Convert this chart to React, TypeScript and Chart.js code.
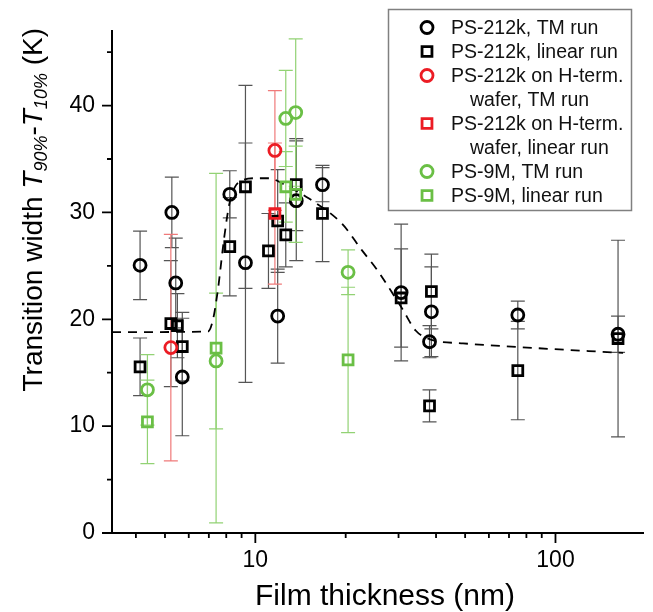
import React, { useEffect, useRef } from "react";
import { Chart, registerables } from "chart.js";

Chart.register(...registerables);

const FONT = '"Liberation Sans", Arial, Helvetica, sans-serif';

// PS-212k, TM run
const tmX = [4.13, 5.27, 5.43, 5.71, 8.22, 9.27, 11.87, 13.69, 16.74, 30.6, 38.6, 38.05, 74.9, 161.6];
const tmY = [25.05, 30.0, 23.4, 14.6, 31.7, 25.3, 20.3, 31.1, 32.6, 22.5, 20.7, 17.9, 20.4, 18.6];
const tmErr = [3.2, 3.3, 4.2, 5.5, 2.2, 11.2, 4.4, 5.6, 1.6, 6.4, 4.2, 1.5, 1.3, 1.7];

// PS-212k, linear run
const linX = [4.13, 5.23, 5.5, 5.71, 8.22, 9.27, 11.06, 11.87, 12.63, 13.69, 16.74, 30.6, 38.6, 38.05, 74.9, 161.6];
const linY = [15.55, 19.6, 19.4, 17.45, 26.8, 32.4, 26.4, 29.2, 27.9, 32.6, 29.9, 22.0, 22.6, 11.9, 15.2, 18.2];
const linErr = [2.7, 5.9, 3.0, 3.2, 4.6, 9.5, 3.5, 4.8, 3.0, 4.3, 4.5, 4.6, 3.5, 1.5, 4.6, 9.2];

// PS-212k on H-term. wafer, TM run
const hTmX = [5.23, 11.62];
const hTmY = [17.35, 35.8];
const hTmErr = [10.6, 5.6];

// PS-212k on H-term. wafer, linear run
const hLinX = [11.62];
const hLinY = [29.9];
const hLinErr = [6.6];

// PS-9M, TM run
const gTmX = [4.37, 7.4, 12.63, 13.63, 20.37];
const gTmY = [13.4, 16.1, 38.8, 39.35, 24.4];
const gTmErr = [3.3, 6.35, 4.5, 6.9, 2.1];

// PS-9M, linear run
const gLinX = [4.37, 7.4, 12.63, 13.63, 20.37];
const gLinY = [10.4, 17.3, 32.4, 31.7, 16.2];
const gLinErr = [3.9, 16.35, 3.3, 4.5, 6.8];

// dashed guide curve
const fitX = [3.33, 6.95, 7.21, 7.49, 7.88, 8.18, 8.52, 9.05, 10.0, 11.08, 12.7, 15.1, 19.5, 22.6, 25.5, 28.4, 31.0, 34.2, 38.4, 49.2, 75.5, 168];
const fitY = [18.8, 18.85, 19.85, 22.6, 27.7, 30.7, 32.3, 33.0, 33.2, 33.2, 32.5, 31.3, 28.9, 26.5, 24.6, 22.6, 20.9, 18.95, 18.1, 17.75, 17.4, 16.85];

const xMajorTicks = [10, 100];
const xMinorTicks = [4, 5, 6, 7, 8, 9, 20, 30, 40, 50, 60, 70, 80, 90];
const yMajorTicks = [0, 10, 20, 30, 40];
const yMinorTicks = [5, 15, 25, 35, 45];

const BLACK = "#000000";
const RED = "#ec1c24";
const GREEN = "#6abf45";
const BLACK_BAR = "#555555";
const RED_BAR = "#f07a7a";
const GREEN_BAR = "#92d274";

const CIRCLE_R = 6.0;
const RECT_R = 7.0;
const MARK_W = 2.8;

const pts = (xs: number[], ys: number[]) => xs.map((x, i) => ({ x, y: ys[i] }));

function makeSet(label: string, xs: number[], ys: number[], errs: number[], style: string, color: string, barColor: string, order: number) {
  return {
    label,
    data: pts(xs, ys),
    errs,
    barColor,
    showLine: false,
    pointStyle: style,
    pointRadius: style === "rect" ? RECT_R : CIRCLE_R,
    pointBorderWidth: MARK_W,
    borderColor: color,
    backgroundColor: "rgba(0,0,0,0)",
    pointBackgroundColor: "rgba(0,0,0,0)",
    pointBorderColor: color,
    order,
  };
}

const errorBarPlugin = {
  id: "errorBars",
  beforeDatasetsDraw(chart: any) {
    const ctx = chart.ctx;
    const xs = chart.scales.x;
    const ys = chart.scales.y;
    ctx.save();
    chart.data.datasets.forEach((ds: any) => {
      if (!ds.errs) return;
      ctx.strokeStyle = ds.barColor;
      ctx.lineWidth = 1.2;
      ds.data.forEach((p: any, i: number) => {
        const e = ds.errs[i];
        const px = xs.getPixelForValue(p.x);
        const top = ys.getPixelForValue(p.y + e);
        const bot = ys.getPixelForValue(p.y - e);
        ctx.beginPath();
        ctx.moveTo(px, top);
        ctx.lineTo(px, bot);
        ctx.moveTo(px - 7, top);
        ctx.lineTo(px + 7, top);
        ctx.moveTo(px - 7, bot);
        ctx.lineTo(px + 7, bot);
        ctx.stroke();
      });
    });
    ctx.restore();
  },
};

function drawMarker(ctx: any, style: string, color: string, x: number, y: number) {
  ctx.save();
  ctx.strokeStyle = color;
  ctx.lineWidth = MARK_W;
  ctx.beginPath();
  if (style === "rect") {
    const s = RECT_R * Math.SQRT1_2;
    ctx.rect(x - s, y - s, 2 * s, 2 * s);
  } else {
    ctx.arc(x, y, CIRCLE_R, 0, Math.PI * 2);
  }
  ctx.stroke();
  ctx.restore();
}

const decorPlugin = {
  id: "decor",
  afterDraw(chart: any) {
    const ctx = chart.ctx;
    const xs = chart.scales.x;
    const ys = chart.scales.y;
    const area = chart.chartArea;
    ctx.save();
    // tick marks
    ctx.strokeStyle = "#000";
    ctx.lineWidth = 1.8;
    ctx.beginPath();
    yMajorTicks.forEach((v) => {
      const py = ys.getPixelForValue(v);
      ctx.moveTo(area.left, py);
      ctx.lineTo(area.left - 10, py);
    });
    yMinorTicks.forEach((v) => {
      const py = ys.getPixelForValue(v);
      ctx.moveTo(area.left, py);
      ctx.lineTo(area.left - 5, py);
    });
    xMajorTicks.forEach((v) => {
      const px = xs.getPixelForValue(v);
      ctx.moveTo(px, area.bottom);
      ctx.lineTo(px, area.bottom + 10);
    });
    xMinorTicks.forEach((v) => {
      const px = xs.getPixelForValue(v);
      ctx.moveTo(px, area.bottom);
      ctx.lineTo(px, area.bottom + 5);
    });
    ctx.stroke();

    // x title
    ctx.fillStyle = "#000";
    ctx.font = `30px ${FONT}`;
    ctx.textAlign = "center";
    ctx.textBaseline = "alphabetic";
    ctx.fillText("Film thickness (nm)", 385, 605);

    // y title (rich text, rotated)
    const parts = [
      { t: "Transition width ", f: `28px ${FONT}`, dy: 0 },
      { t: "T", f: `italic 28px ${FONT}`, dy: 0 },
      { t: "90%", f: `italic 18px ${FONT}`, dy: 5 },
      { t: "-", f: `28px ${FONT}`, dy: 0 },
      { t: "T", f: `italic 28px ${FONT}`, dy: 0 },
      { t: "10%", f: `italic 18px ${FONT}`, dy: 5 },
      { t: " (K)", f: `28px ${FONT}`, dy: 0 },
    ];
    let total = 0;
    parts.forEach((p) => {
      ctx.font = p.f;
      total += ctx.measureText(p.t).width;
    });
    ctx.save();
    ctx.translate(42, 28 + total);
    ctx.rotate(-Math.PI / 2);
    ctx.textAlign = "left";
    let off = 0;
    parts.forEach((p) => {
      ctx.font = p.f;
      ctx.fillText(p.t, off, p.dy);
      off += ctx.measureText(p.t).width;
    });
    ctx.restore();

    // legend
    ctx.strokeStyle = "#808080";
    ctx.lineWidth = 1.5;
    ctx.strokeRect(388.5, 9.5, 243, 201);
    ctx.font = `19.5px ${FONT}`;
    ctx.textAlign = "left";
    ctx.textBaseline = "middle";
    ctx.fillStyle = "#111";
    let rowY = 27.5;
    chart.data.datasets.forEach((ds: any) => {
      if (!ds.errs) return;
      const lines = String(ds.label).split("\n");
      drawMarker(ctx, ds.pointStyle, ds.pointBorderColor, 427, rowY);
      lines.forEach((ln: string, k: number) => {
        ctx.fillText(ln, k === 0 ? 451 : 470, rowY + 1);
        rowY += 24;
      });
    });
    ctx.restore();
  },
};

export default function App() {
  const ref = useRef<HTMLCanvasElement | null>(null);
  useEffect(() => {
    if (!ref.current) return;
    const datasets: any[] = [
      makeSet("PS-212k, TM run", tmX, tmY, tmErr, "circle", BLACK, BLACK_BAR, 3),
      makeSet("PS-212k, linear run", linX, linY, linErr, "rect", BLACK, BLACK_BAR, 3),
      makeSet("PS-212k on H-term.\nwafer, TM run", hTmX, hTmY, hTmErr, "circle", RED, RED_BAR, 2),
      makeSet("PS-212k on H-term.\nwafer, linear run", hLinX, hLinY, hLinErr, "rect", RED, RED_BAR, 2),
      makeSet("PS-9M, TM run", gTmX, gTmY, gTmErr, "circle", GREEN, GREEN_BAR, 1),
      makeSet("PS-9M, linear run", gLinX, gLinY, gLinErr, "rect", GREEN, GREEN_BAR, 1),
      {
        label: "fit",
        data: pts(fitX, fitY),
        showLine: true,
        borderColor: "#000",
        borderWidth: 1.8,
        borderDash: [9, 7],
        pointRadius: 0,
        cubicInterpolationMode: "monotone",
        fill: false,
        order: 4,
      },
    ];
    const chart = new Chart(ref.current, {
      type: "scatter",
      data: { datasets },
      plugins: [errorBarPlugin, decorPlugin],
      options: {
        animation: false,
        responsive: false,
        devicePixelRatio: 1,
        layout: { padding: { top: 12, right: 0, bottom: 0, left: 0 } },
        plugins: { legend: { display: false }, tooltip: { enabled: false } },
        scales: {
          x: {
            type: "logarithmic",
            min: 3.33,
            max: 196,
            grid: { display: false, drawTicks: false },
            border: { display: true, color: "#000", width: 2 },
            afterBuildTicks: (s: any) => {
              s.ticks = xMajorTicks.map((v) => ({ value: v }));
            },
            afterFit: (s: any) => {
              s.height = 79;
            },
            ticks: {
              autoSkip: false,
              maxRotation: 0,
              padding: 14,
              color: "#000",
              font: { family: FONT, size: 23 },
              callback: (v: any) => String(v),
            },
          },
          y: {
            type: "linear",
            min: 0,
            max: 47,
            grid: { display: false, drawTicks: false },
            border: { display: true, color: "#000", width: 2 },
            afterBuildTicks: (s: any) => {
              s.ticks = yMajorTicks.map((v) => ({ value: v }));
            },
            afterFit: (s: any) => {
              s.width = 112;
            },
            ticks: {
              padding: 17,
              color: "#000",
              font: { family: FONT, size: 23 },
              callback: (v: any) => String(v),
            },
          },
        },
      },
    });
    return () => chart.destroy();
  }, []);
  return (
    <div style={{ position: "absolute", left: 0, top: 0, width: 653, height: 612, background: "#fff" }}>
      <canvas ref={ref} width={653} height={612} />
    </div>
  );
}
